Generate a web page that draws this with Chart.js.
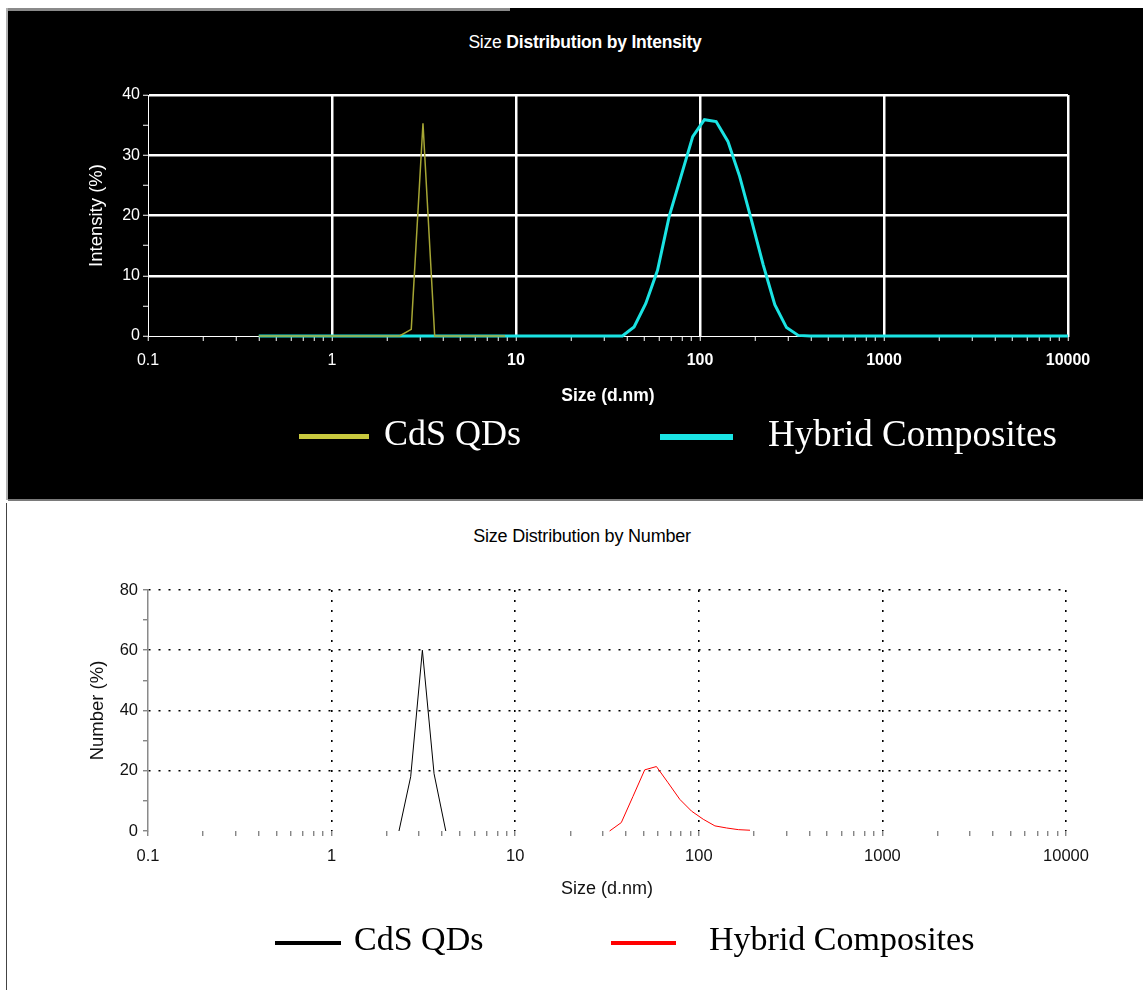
<!DOCTYPE html>
<html>
<head>
<meta charset="utf-8">
<script src="https://cdn.jsdelivr.net/npm/chart.js@4/dist/chart.umd.min.js"></script>
<style>
  html, body { margin: 0; padding: 0; }
  body { width: 1143px; height: 990px; position: relative; overflow: hidden; background: #fff; }
  .abs { position: absolute; }
  canvas { position: absolute; left: 0; }
  .narrow { font-family: 'Liberation Sans Narrow', 'Arial Narrow', 'Liberation Sans', Arial, sans-serif; }
  .serif { font-family: 'Liberation Serif', 'Times New Roman', serif; white-space: nowrap; }
</style>
</head>
<body>
<div class="abs" style="left:8px;top:8px;width:1135px;height:492px;background:#000"></div>
<div class="abs" style="left:6px;top:8px;width:504px;height:3px;background:#8a8a8a"></div>
<div class="abs" style="left:6px;top:8px;width:2px;height:492px;background:#b0b0b0"></div>
<div class="abs" style="left:8px;top:499px;width:1135px;height:2px;background:#7a7a7a"></div>
<div class="abs" style="left:6px;top:503px;width:1px;height:487px;background:#444"></div>

<div id="title1" class="abs narrow" style="left:0;top:31px;width:1170px;text-align:center;font-size:17.5px;line-height:22px;color:#fff;letter-spacing:-0.2px"><span>Size </span><b>Distribution by Intensity</b></div>
<div id="title2" class="abs narrow" style="left:0;top:525px;width:1164px;text-align:center;font-size:18px;line-height:22px;color:#000;letter-spacing:-0.2px">Size Distribution by Number</div>

<canvas id="c1" width="1143" height="490" style="top:10px"></canvas>
<canvas id="c2" width="1143" height="490" style="top:500px"></canvas>

<div id="legend1"></div>
<div id="legend2"></div>

<script>
// Size bins (d.nm)
const sizeBins = [0.4, 0.4632, 0.5365, 0.6213, 0.7195, 0.8332, 0.9649, 1.117, 1.294, 1.499,
  1.736, 2.010, 2.328, 2.696, 3.122, 3.615, 4.187, 4.849, 5.615, 6.503,
  7.531, 8.721, 10.10, 11.70, 13.54, 15.69, 18.17, 21.04, 24.36, 28.21,
  32.67, 37.84, 43.82, 50.75, 58.77, 68.06, 78.82, 91.28, 105.7, 122.4,
  141.8, 164.2, 190.1, 220.2, 255.0, 295.3, 342.0, 396.1, 458.7, 531.2,
  615.1, 712.4, 825.0, 955.4, 1106, 1281, 1484, 1718, 1990, 2305,
  2669, 3091, 3580, 4145, 4801, 5560, 6439, 7456, 8635, 10000];

const seriesNames = ['CdS QDs', 'Hybrid Composites'];

// Size distribution by intensity (%)
const intensityCdS = [0, 0, 0, 0, 0, 0, 0, 0, 0, 0,
  0, 0, 0, 1.1, 35.3, 0, 0, 0, 0, 0,
  0, 0, null, null, null, null, null, null, null, null,
  null, null, null, null, null, null, null, null, null, null,
  null, null, null, null, null, null, null, null, null, null,
  null, null, null, null, null, null, null, null, null, null,
  null, null, null, null, null, null, null, null, null, null];
const intensityHybrid = [0, 0, 0, 0, 0, 0, 0, 0, 0, 0,
  0, 0, 0, 0, 0, 0, 0, 0, 0, 0,
  0, 0, 0, 0, 0, 0, 0, 0, 0, 0,
  0, 0, 1.5, 5.4, 10.9, 19.9, 26.5, 33.1, 35.9, 35.6,
  32.3, 26.5, 19.3, 11.9, 5.2, 1.4, 0.1, 0, 0, 0,
  0, 0, 0, 0, 0, 0, 0, 0, 0, 0,
  0, 0, 0, 0, 0, 0, 0, 0, 0, 0];

// Size distribution by number (%)
const numberCdS = [null, null, null, null, null, null, null, null, null, null,
  null, null, 0, 18, 60, 19, 0, null, null, null,
  null, null, null, null, null, null, null, null, null, null,
  null, null, null, null, null, null, null, null, null, null,
  null, null, null, null, null, null, null, null, null, null,
  null, null, null, null, null, null, null, null, null, null,
  null, null, null, null, null, null, null, null, null, null];
const numberHybrid = [null, null, null, null, null, null, null, null, null, null,
  null, null, null, null, null, null, null, null, null, null,
  null, null, null, null, null, null, null, null, null, null,
  0, 2.8, 11.5, 20.3, 21.4, 16, 10.5, 6.6, 3.9, 1.7,
  1.0, 0.45, 0.25, null, null, null, null, null, null, null,
  null, null, null, null, null, null, null, null, null, null,
  null, null, null, null, null, null, null, null, null, null];

// Axis ticks
const xMajorTicks = [0.1, 1, 10, 100, 1000, 10000];
const xTickLabels = ['0.1', '1', '10', '100', '1000', '10000'];
const xMinorMultipliers = [2, 3, 4, 5, 6, 7, 8, 9];
const intensityTicks = [0, 10, 20, 30, 40];
const numberTicks = [0, 20, 40, 60, 80];

const intensityColors = ['#a6a634', '#1ae3e3'];
const intensityLegendColors = ['#c8c83e', '#1ae5e5'];
const numberColors = ['#000000', '#ff0000'];

const NARROW = "'Liberation Sans Narrow', 'Arial Narrow', 'Liberation Sans', Arial, sans-serif";
const CLEAR = 'rgba(0,0,0,0)';

function xTickValues() {
  const vals = [];
  for (let i = 0; i < xMajorTicks.length; i++) {
    vals.push(xMajorTicks[i]);
    if (i < xMajorTicks.length - 1) {
      xMinorMultipliers.forEach(m => vals.push(+(m * xMajorTicks[i]).toPrecision(6)));
    }
  }
  return vals;
}
function majorIndex(v) {
  return xMajorTicks.findIndex(m => Math.abs(m - v) / m < 1e-6);
}
function toPoints(values) {
  return values.map((v, i) => ({ x: sizeBins[i], y: v }));
}

function makeXScale(opts) {
  return {
    type: 'logarithmic',
    min: 0.1,
    max: 10000,
    afterBuildTicks: s => { s.ticks = xTickValues().map(v => ({ value: v, major: majorIndex(v) >= 0 })); },
    afterFit: s => { s.height = 100; },
    ticks: {
      autoSkip: false, maxRotation: 0, minRotation: 0, padding: opts.tickPad, color: opts.tickColor,
      font: opts.tickFont,
      callback: v => { const k = majorIndex(v); return k >= 0 ? xTickLabels[k] : ''; }
    },
    grid: {
      color: c => (c.tick && majorIndex(c.tick.value) > 0) ? opts.gridColor : CLEAR,
      lineWidth: opts.gridWidth,
      tickColor: opts.tickMarkColor, tickWidth: 1, tickLength: 5
    },
    border: opts.border,
    title: { display: true, text: 'Size (d.nm)', color: opts.tickColor, font: opts.titleFont, padding: { top: 0, bottom: opts.titlePad } }
  };
}

const common = {
  responsive: false,
  animation: false,
  events: [],
  plugins: { legend: { display: false }, title: { display: false }, tooltip: { enabled: false } }
};

// ---- Chart 1: intensity ----
new Chart(document.getElementById('c1'), {
  type: 'line',
  data: {
    datasets: [
      { label: seriesNames[0], data: toPoints(intensityCdS), borderColor: intensityColors[0], borderWidth: 1.5, pointRadius: 0, tension: 0, spanGaps: false, clip: 6 },
      { label: seriesNames[1], data: toPoints(intensityHybrid), borderColor: intensityColors[1], borderWidth: 3, pointRadius: 0, tension: 0, spanGaps: false, clip: 6 }
    ]
  },
  options: Object.assign({}, common, {
    layout: { padding: { left: 0, right: 75, top: 85, bottom: 64 } },
    scales: {
      x: makeXScale({
        tickPad: 10, tickColor: '#ffffff',
        tickFont: c => ({ family: NARROW, size: 16, weight: (c.tick && c.tick.value >= 10) ? 'bold' : 'normal' }),
        gridColor: '#ffffff', gridWidth: 2.5, tickMarkColor: '#ffffff',
        border: { color: '#ffffff', width: 1 },
        titleFont: { family: NARROW, size: 17.5, weight: 'bold' }, titlePad: 29
      }),
      y: {
        type: 'linear', min: 0, max: 40,
        afterFit: s => { s.width = 148; },
        ticks: { stepSize: 5, color: '#ffffff', padding: 3, font: { family: NARROW, size: 16 },
          callback: v => intensityTicks.includes(v) ? String(v) : '' },
        grid: { color: c => (c.tick && c.tick.value > 0 && intensityTicks.includes(c.tick.value)) ? '#ffffff' : CLEAR,
          lineWidth: 2.5, tickColor: '#ffffff', tickWidth: 1, tickLength: 5 },
        border: { color: '#ffffff', width: 1 },
        title: { display: true, text: 'Intensity (%)', color: '#ffffff', font: { family: NARROW, size: 18.5 }, padding: { top: 86, bottom: 0 } }
      }
    }
  })
});

// ---- Chart 2: number ----
new Chart(document.getElementById('c2'), {
  type: 'line',
  data: {
    datasets: [
      { label: seriesNames[0], data: toPoints(numberCdS), borderColor: numberColors[0], borderWidth: 1, pointRadius: 0, tension: 0, spanGaps: false, clip: 6 },
      { label: seriesNames[1], data: toPoints(numberHybrid), borderColor: numberColors[1], borderWidth: 1, pointRadius: 0, tension: 0, spanGaps: false, clip: 6 }
    ]
  },
  options: Object.assign({}, common, {
    layout: { padding: { left: 0, right: 77, top: 90, bottom: 59 } },
    scales: {
      x: makeXScale({
        tickPad: 11, tickColor: '#111111',
        tickFont: { family: NARROW, size: 16.5 },
        gridColor: '#000000', gridWidth: 1.6, tickMarkColor: '#555555',
        border: { display: false, dash: [2, 8] },
        titleFont: { family: NARROW, size: 18 }, titlePad: 31
      }),
      y: {
        type: 'linear', min: 0, max: 80,
        afterFit: s => { s.width = 148; },
        ticks: { stepSize: 10, color: '#111111', padding: 5, font: { family: NARROW, size: 16.5 },
          callback: v => numberTicks.includes(v) ? String(v) : '' },
        grid: { color: c => (c.tick && c.tick.value > 0 && numberTicks.includes(c.tick.value)) ? '#000000' : CLEAR,
          lineWidth: 1.6, tickColor: '#555555', tickWidth: 1, tickLength: 5 },
        border: { color: '#8a8a8a', width: 1.5, dash: [2, 8] },
        title: { display: true, text: 'Number (%)', color: '#111111', font: { family: NARROW, size: 18.5 }, padding: { top: 87, bottom: 0 } }
      }
    }
  })
});

// ---- HTML legends built from the series names / colours ----
function buildLegend(id, colors, layout) {
  const host = document.getElementById(id);
  seriesNames.forEach((name, i) => {
    const L = layout[i];
    const bar = document.createElement('div');
    bar.className = 'abs';
    bar.style.cssText = `left:${L.barX}px;top:${L.barY}px;width:${L.barW}px;height:${L.barH}px;background:${colors[i]}`;
    host.appendChild(bar);
    const txt = document.createElement('div');
    txt.className = 'abs serif';
    txt.style.cssText = `left:${L.textX}px;top:${L.textY}px;font-size:${L.size}px;line-height:${L.size}px;color:${L.color}`;
    txt.textContent = name;
    host.appendChild(txt);
  });
}
buildLegend('legend1', intensityLegendColors, [
  { barX: 299, barY: 434, barW: 70, barH: 5, textX: 384, textY: 415, size: 36, color: '#ffffff' },
  { barX: 660, barY: 434, barW: 73, barH: 6, textX: 768, textY: 415, size: 37, color: '#ffffff' }
]);
buildLegend('legend2', numberColors, [
  { barX: 275, barY: 941, barW: 66, barH: 4, textX: 354, textY: 922, size: 34, color: '#000000' },
  { barX: 611, barY: 941, barW: 65, barH: 4, textX: 709, textY: 922, size: 34, color: '#000000' }
]);
</script>
</body>
</html>
